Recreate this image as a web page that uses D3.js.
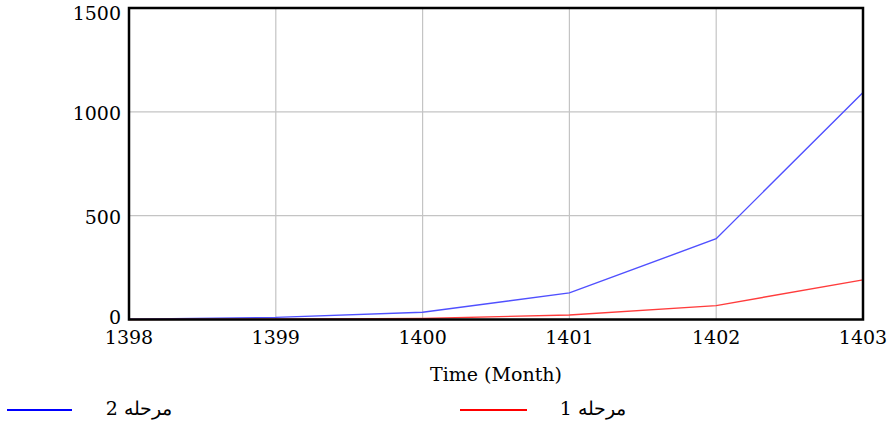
<!DOCTYPE html>
<html>
<head>
<meta charset="utf-8">
<script src="https://cdn.jsdelivr.net/npm/d3@7"></script>
<style>
  body { margin: 0; background: #fff; }
  text { font-family: "DejaVu Serif", "Liberation Serif", serif; }
</style>
</head>
<body>
<script>
const years = [1398, 1399, 1400, 1401, 1402, 1403];
const stage2 = [2, 10, 35, 128, 389, 1093];
const stage1 = [0, 2, 5, 22, 67, 191];
const yTicks = [0, 500, 1000, 1500];
const labels = ['مرحله 2', 'مرحله 1'];

const width = 891, height = 425;
const margin = { top: 8, right: 28, bottom: 106, left: 129 };

const svg = d3.select('body').append('svg')
  .attr('width', width)
  .attr('height', height);

const x = d3.scaleLinear().domain([1398, 1403]).range([margin.left, width - margin.right]);
const y = d3.scaleLinear().domain([0, 1500]).range([height - margin.bottom + 0.5, margin.top]);

// grid
svg.append('g').selectAll('line')
  .data(years.slice(1, -1))
  .join('line')
  .attr('x1', d => x(d)).attr('x2', d => x(d))
  .attr('y1', y(0)).attr('y2', y(1500))
  .attr('stroke', '#c4c4c4').attr('stroke-width', 1.2);

svg.append('g').selectAll('line')
  .data(yTicks.slice(1, -1))
  .join('line')
  .attr('x1', x(1398)).attr('x2', x(1403))
  .attr('y1', d => y(d)).attr('y2', d => y(d))
  .attr('stroke', '#c4c4c4').attr('stroke-width', 1.2);

// series
const line = d3.line().x((d, i) => x(years[i])).y(d => y(d));

svg.append('path').datum(stage2)
  .attr('d', line).attr('fill', 'none')
  .attr('stroke', '#5050ff').attr('stroke-width', 1.4);

svg.append('path').datum(stage1)
  .attr('d', line).attr('fill', 'none')
  .attr('stroke', '#ff3c3c').attr('stroke-width', 1.4);

// frame
svg.append('rect')
  .attr('x', x(1398)).attr('y', y(1500))
  .attr('width', x(1403) - x(1398)).attr('height', y(0) - y(1500))
  .attr('fill', 'none').attr('stroke', '#000').attr('stroke-width', 2.5);

// tick labels (end labels are pulled inside the frame)
svg.append('g').selectAll('text')
  .data(yTicks)
  .join('text')
  .attr('x', x(1398) - 8)
  .attr('y', d => Math.min(Math.max(y(d) + 8, y(1500) + 12), y(0) + 4))
  .attr('text-anchor', 'end')
  .attr('font-size', 19)
  .text(d => d);

svg.append('g').selectAll('text')
  .data(years)
  .join('text')
  .attr('x', d => x(d))
  .attr('y', y(0) + 24)
  .attr('text-anchor', 'middle')
  .attr('font-size', 19)
  .text(d => d);

svg.append('text')
  .attr('x', (x(1398) + x(1403)) / 2)
  .attr('y', 381)
  .attr('text-anchor', 'middle')
  .attr('font-size', 19)
  .text('Time (Month)');

// legend
const legend = [
  { label: labels[0], color: '#0000ff', x0: 7, x1: 72, tx: 172 },
  { label: labels[1], color: '#ff0000', x0: 460, x1: 527, tx: 626 }
];
legend.forEach(l => {
  svg.append('line')
    .attr('x1', l.x0).attr('x2', l.x1)
    .attr('y1', 410).attr('y2', 410)
    .attr('stroke', l.color).attr('stroke-width', 2);
  svg.append('text')
    .attr('x', l.tx).attr('y', 415)
    .attr('direction', 'rtl')
    .attr('text-anchor', 'start')
    .attr('font-size', 19)
    .text(l.label);
});
</script>
</body>
</html>
